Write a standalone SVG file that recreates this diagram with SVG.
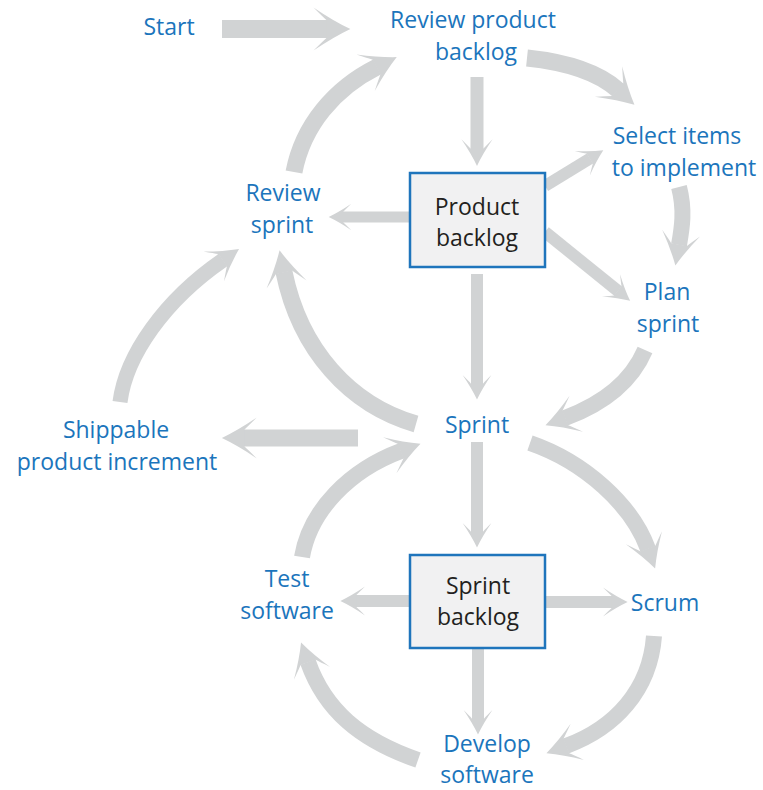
<svg xmlns="http://www.w3.org/2000/svg" width="763" height="790" viewBox="0 0 763 790">
<defs>
<marker id="ah" viewBox="-1 -1.5 3 3" refX="0" refY="0" markerWidth="3" markerHeight="3" orient="auto" markerUnits="strokeWidth" overflow="visible">
<path d="M1.3,0 Q0.35,-0.45 -0.75,-1.2 Q-0.25,-0.7 -0.03,-0.5 L-0.03,0.5 Q-0.25,0.7 -0.75,1.2 Q0.35,0.45 1.3,0 Z" fill="#d1d3d4"/>
</marker>
</defs>
<style>
.a{fill:none;stroke:#d1d3d4;marker-end:url(#ah)}
.t{font-family:"Open Sans","Noto Sans",sans-serif;font-size:23px;fill:#1b75bc;text-anchor:middle}
.b{font-family:"Open Sans","Noto Sans",sans-serif;font-size:23px;fill:#231f20;text-anchor:middle}
.box{fill:#f1f1f2;stroke:#1f75bc;stroke-width:2.5}
</style>
<rect width="763" height="790" fill="#fff"/>
<g id="connectors">
<path class="a" stroke-width="18" d="M222,29 H327"/>
<path class="a" stroke-width="13" d="M477,77 V149"/>
<path class="a" stroke-width="17" d="M527,58 C565,62 598,72 618,90"/>
<path class="a" stroke-width="12" d="M545,186 L590,158.5"/>
<path class="a" stroke-width="16" d="M679,187 C685,210 682,228 679,245"/>
<path class="a" stroke-width="12" d="M545,232 L618,291"/>
<path class="a" stroke-width="16" d="M645,350 C630,385 600,405 565,418"/>
<path class="a" stroke-width="11" d="M410,217 H343"/>
<path class="a" stroke-width="17" d="M294,172 C303,125 335,88 377,67"/>
<path class="a" stroke-width="15" d="M120,402 C126,355 165,300 223,260"/>
<path class="a" stroke-width="17" d="M416,424 C350,405 300,350 284,272"/>
<path class="a" stroke-width="17" d="M358,438 H244"/>
<path class="a" stroke-width="12" d="M477,274 V384"/>
<path class="a" stroke-width="12" d="M477,442 V532"/>
<path class="a" stroke-width="16" d="M530,443 C585,462 632,505 648,549"/>
<path class="a" stroke-width="16" d="M302,557 C310,510 350,470 401,451"/>
<path class="a" stroke-width="12" d="M410,601 H356"/>
<path class="a" stroke-width="12" d="M546,602 H612"/>
<path class="a" stroke-width="12" d="M478,649 V719"/>
<path class="a" stroke-width="16" d="M654,636 C650,690 615,728 566,746"/>
<path class="a" stroke-width="16" d="M418,760 C360,740 325,710 308,662"/>
</g>
<g id="start"><text class="t" x="169" y="35">Start</text></g>
<g id="review-product-backlog"><text class="t"><tspan x="473" y="28.2">Review product</tspan><tspan x="476" y="59.7">backlog</tspan></text></g>
<g id="select-items"><text class="t"><tspan x="677" y="144.2">Select items</tspan><tspan x="684" y="175.7">to implement</tspan></text></g>
<g id="review-sprint"><text class="t"><tspan x="283" y="201.2">Review</tspan><tspan x="282" y="232.7">sprint</tspan></text></g>
<g id="product-backlog"><rect class="box" x="410" y="173" width="135" height="94"/><text class="b"><tspan x="477" y="214.7">Product</tspan><tspan x="477" y="246.2">backlog</tspan></text></g>
<g id="plan-sprint"><text class="t"><tspan x="667" y="300.2">Plan</tspan><tspan x="668" y="331.7">sprint</tspan></text></g>
<g id="shippable"><text class="t"><tspan x="116" y="438.2">Shippable</tspan><tspan x="117" y="469.7">product increment</tspan></text></g>
<g id="sprint"><text class="t" x="477" y="433">Sprint</text></g>
<g id="sprint-backlog"><rect class="box" x="410" y="555" width="135" height="93"/><text class="b"><tspan x="478" y="593.7">Sprint</tspan><tspan x="478" y="625.2">backlog</tspan></text></g>
<g id="test-software"><text class="t"><tspan x="287" y="587.2">Test</tspan><tspan x="287" y="618.7">software</tspan></text></g>
<g id="scrum"><text class="t" x="665" y="611">Scrum</text></g>
<g id="develop-software"><text class="t"><tspan x="487" y="751.5">Develop</tspan><tspan x="487" y="783">software</tspan></text></g>
</svg>
